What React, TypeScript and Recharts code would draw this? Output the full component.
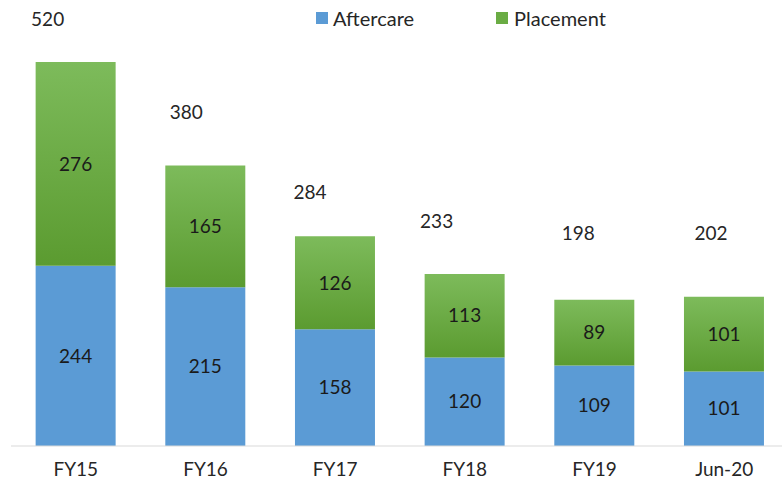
import React from "react";
import { BarChart, Bar, XAxis, YAxis, LabelList } from "recharts";

const categories = ["FY15", "FY16", "FY17", "FY18", "FY19", "Jun-20"];
const aftercare = [244, 215, 158, 120, 109, 101];
const placement = [276, 165, 126, 113, 89, 101];
const totals = [520, 380, 284, 233, 198, 202];

// label nudges (styling only), relative to top-centre of each stacked bar
const TOTAL_DX = [-28, -19, -25, -28, -16, -13];
const TOTAL_DY = [-44, -54, -45, -53, -67, -64];

const data = categories.map((c, i) => ({
  name: c,
  aftercare: aftercare[i],
  placement: placement[i],
  total: totals[i],
}));

const FONT = "Lato, 'Open Sans', sans-serif";

const TotalLabel = (props: any) => {
  const { x, y, width, index } = props;
  const cx = Number(x) + Number(width) / 2 + TOTAL_DX[index];
  const cy = Number(y) + TOTAL_DY[index];
  return (
    <text x={cx} y={cy} textAnchor="middle" dominantBaseline="central" fill="#262626" fontSize={19} fontFamily={FONT}>
      {totals[index]}
    </text>
  );
};

export default function App() {
  return (
    <div style={{ position: "absolute", left: 0, top: 0, width: 782, height: 493, background: "#fff", overflow: "hidden" }}>
      <BarChart
        width={782}
        height={493}
        data={data}
        margin={{ top: 62, right: -7, left: 11, bottom: 0 }}
        barCategoryGap="19%"
      >
        <defs>
          <linearGradient id="greenGrad" x1="0" y1="0" x2="0" y2="1">
            <stop offset="0%" stopColor="#7dbb5b" />
            <stop offset="100%" stopColor="#5b9b30" />
          </linearGradient>
        </defs>
        <XAxis
          dataKey="name"
          height={47}
          tickLine={false}
          axisLine={{ stroke: "#d9d9d9", strokeWidth: 1 }}
          tick={{ fill: "#262626", fontSize: 19, fontFamily: FONT }}
          tickMargin={11}
        />
        <YAxis hide domain={[0, 520]} />
        <Bar dataKey="aftercare" stackId="a" fill="#5b9bd5" isAnimationActive={false}>
          <LabelList dataKey="aftercare" position="center" fill="#1a1a1a" fontSize={19} fontFamily={FONT} />
        </Bar>
        <Bar dataKey="placement" stackId="a" fill="url(#greenGrad)" isAnimationActive={false}>
          <LabelList dataKey="placement" position="center" fill="#1a1a1a" fontSize={19} fontFamily={FONT} />
          <LabelList dataKey="total" content={TotalLabel} />
        </Bar>
      </BarChart>
      <div style={{ position: "absolute", left: 316, top: 6, display: "flex", alignItems: "center", fontFamily: FONT, fontSize: 20, color: "#262626" }}>
        <span style={{ width: 12, height: 12, background: "#5b9bd5", display: "inline-block", marginRight: 5 }} />
        <span style={{ marginRight: 82 }}>Aftercare</span>
        <span style={{ width: 12, height: 12, background: "#6aac44", display: "inline-block", marginRight: 6 }} />
        <span>Placement</span>
      </div>
    </div>
  );
}
